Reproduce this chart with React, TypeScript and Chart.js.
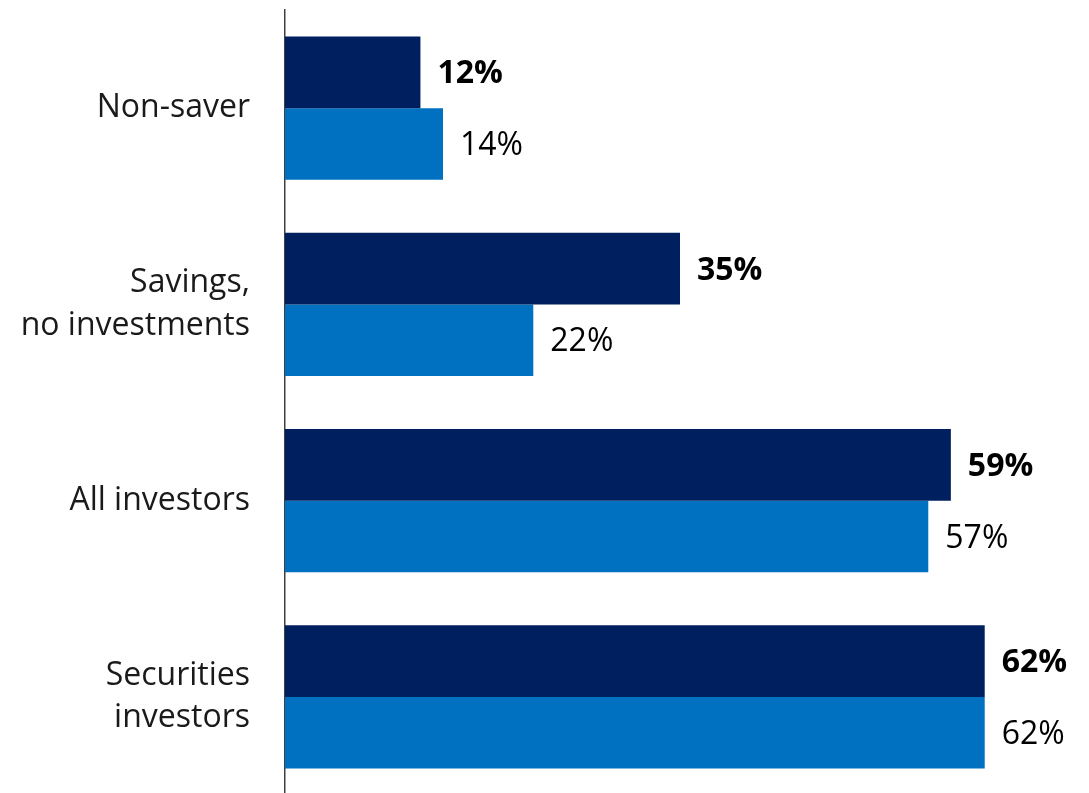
import React, { useEffect, useRef } from "react";
import { Chart, registerables } from "chart.js";

Chart.register(...registerables);

const categories: (string | string[])[] = [
  "Non-saver",
  ["Savings,", "no investments"],
  "All investors",
  ["Securities", "investors"],
];
const seriesA = [12, 35, 59, 62];
const seriesB = [14, 22, 57, 62];
const seriesNames = ["Series A", "Series B"];
const colorA = "#001F5F";
const colorB = "#0070C0";
const FONT = "'Open Sans', sans-serif";

const labelPlugin = {
  id: "barValueLabels",
  afterDatasetsDraw(chart: any) {
    const ctx = chart.ctx;
    ctx.save();
    chart.data.datasets.forEach((ds: any, di: number) => {
      const meta = chart.getDatasetMeta(di);
      ctx.font = `${di === 0 ? "bold " : ""}32px ${FONT}`;
      ctx.fillStyle = "#000000";
      ctx.textAlign = "left";
      ctx.textBaseline = "middle";
      meta.data.forEach((bar: any, i: number) => {
        ctx.fillText(`${ds.data[i]}%`, bar.x + 17, bar.y + 2);
      });
    });
    ctx.restore();
  },
};

export default function App() {
  const ref = useRef<HTMLCanvasElement>(null);
  useEffect(() => {
    if (!ref.current) return;
    const chart = new Chart(ref.current, {
      type: "bar",
      data: {
        labels: categories,
        datasets: [
          { label: seriesNames[0], data: seriesA, backgroundColor: colorA },
          { label: seriesNames[1], data: seriesB, backgroundColor: colorB },
        ],
      },
      options: {
        indexAxis: "y",
        animation: false,
        responsive: false,
        maintainAspectRatio: false,
        layout: { padding: { top: 10, right: 14, left: 0, bottom: 0 } },
        datasets: { bar: { categoryPercentage: 0.73, barPercentage: 1 } },
        plugins: {
          legend: { display: false },
          tooltip: { enabled: false },
        },
        scales: {
          x: {
            min: 0,
            max: 70,
            display: false,
            grid: { display: false },
          },
          y: {
            grid: { display: false, drawTicks: false },
            border: { display: true, color: "#404040", width: 1.5 },
            ticks: {
              padding: 35,
              color: "#1a1a1a",
              font: { family: FONT, size: 32, lineHeight: 1.34 },
            },
            afterFit: (scale: any) => {
              scale.width = 285;
              scale.paddingTop = 0;
              scale.paddingBottom = 0;
            },
          },
        },
      },
      plugins: [labelPlugin],
    });
    return () => chart.destroy();
  }, []);
  return (
    <div style={{ position: "fixed", left: 0, top: 0, width: 1089, height: 795, background: "#fff" }}>
      <canvas ref={ref} width={1089} height={795} style={{ display: "block" }} />
    </div>
  );
}
